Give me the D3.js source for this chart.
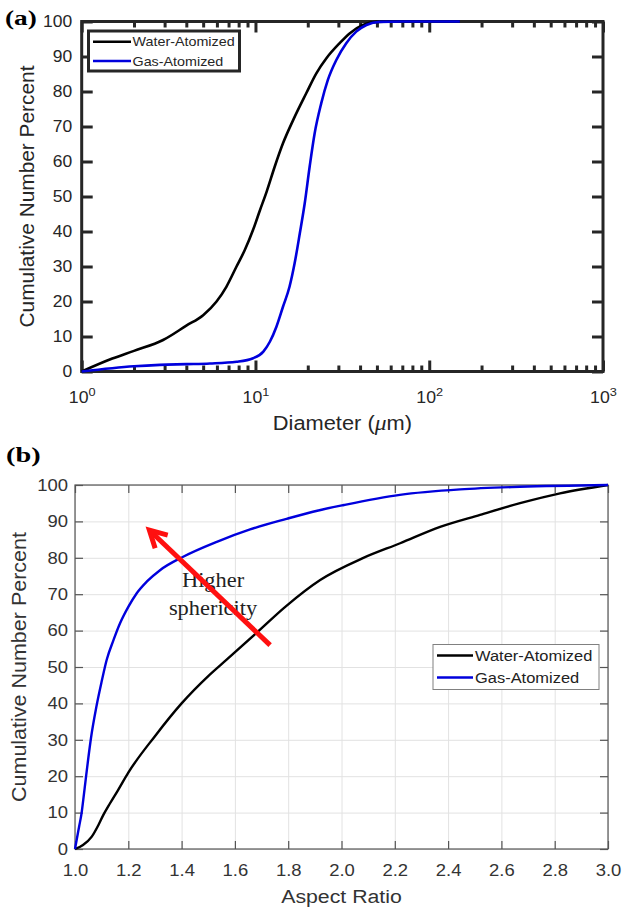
<!DOCTYPE html>
<html>
<head>
<meta charset="utf-8">
<script src="https://cdn.jsdelivr.net/npm/d3@7"></script>
<style>
  body { margin: 0; background: #fff; }
  svg { display: block; }
</style>
</head>
<body>
<div id="chart"></div>
<script>
// panel (a): cumulative number percent vs diameter (um), log x
const diamWater = [1, 1.5, 2, 2.94, 4, 5.0, 5.97, 6.8, 7.78, 8.68, 9.69, 10.6, 11.6, 12.9, 14.4, 16.5, 19.6, 22.4, 25.6, 30.5, 34.8, 41.5, 49.6, 60, 80, 100, 150];
const cumWater = [0, 3.7, 5.9, 9, 13.1, 16.1, 20, 24.2, 30, 34.7, 40.5, 46, 51.4, 58.5, 65.2, 71.9, 79.5, 85.2, 89.5, 93.8, 96.6, 99, 99.9, 100, 100, 100, 100];
const diamGas = [1, 2, 2.82, 4, 5.47, 7.78, 9.69, 11.1, 12.1, 13.2, 14.4, 15.7, 16.8, 18.0, 19.2, 20.5, 21.9, 23.9, 26.1, 29.2, 33.3, 38, 43.5, 51.8, 70, 150];
const cumGas = [0, 1.5, 1.9, 2.1, 2.3, 2.8, 3.8, 5.7, 8.5, 12.8, 18.5, 24.2, 30.9, 39.5, 48, 58.5, 68, 76.6, 83.3, 89, 93.8, 97.1, 99, 99.9, 100, 100];

// panel (b): cumulative number percent vs aspect ratio
const arWater = [1.0, 1.03, 1.063, 1.088, 1.106, 1.131, 1.16, 1.2, 1.3, 1.4, 1.5, 1.569, 1.68, 1.79, 1.92, 2.08, 2.22, 2.37, 2.52, 2.67, 2.82, 3.0];
const arCumWater = [0, 1.1, 3.4, 6.6, 9.3, 12.5, 16, 21, 31, 40, 47.5, 52, 59.3, 66.6, 73.9, 79.9, 84, 88.5, 91.8, 95, 97.7, 100];
const arGas = [1.0, 1.015, 1.025, 1.031, 1.04, 1.05, 1.06, 1.08, 1.1, 1.119, 1.145, 1.169, 1.2, 1.231, 1.27, 1.319, 1.406, 1.532, 1.657, 1.794, 1.913, 2.009, 2.219, 2.445, 2.67, 3.0];
const arCumGas = [0, 6, 10, 13.5, 19, 25, 30.5, 39, 46, 52, 57.5, 62, 66.5, 70.2, 73.5, 76.6, 80.3, 84.4, 87.8, 90.7, 93, 94.5, 97.3, 98.8, 99.5, 100];

const seriesNames = ["Water-Atomized", "Gas-Atomized"];
const seriesColors = ["#000000", "#0000dd"];
const diamMajor = [1, 10, 100, 1000];
const diamMinor = [2, 3, 4, 5, 6, 7, 8, 9, 20, 30, 40, 50, 60, 70, 80, 90, 200, 300, 400, 500, 600, 700, 800, 900];
const pctTicks = [0, 10, 20, 30, 40, 50, 60, 70, 80, 90, 100];
const arTicks = [1.0, 1.2, 1.4, 1.6, 1.8, 2.0, 2.2, 2.4, 2.6, 2.8, 3.0];

// arrow annotation in data units (tail -> tip)
const arrowFrom = [1.732, 56];
const arrowTo = [1.279, 87.6];
const noteLines = ["Higher", "sphericity"];

const W = 624, H = 909;
const SX = 1.12; // the source figure is stretched horizontally
const sans = "'Liberation Sans', Arial, sans-serif";
const serif = "'Liberation Serif', 'Times New Roman', serif";

const svg = d3.select("#chart").append("svg").attr("width", W).attr("height", H);

function text(g, x, y, str, size, anchor, sx) {
  return g.append("text")
    .attr("transform", `translate(${x},${y}) scale(${sx || SX},1)`)
    .attr("text-anchor", anchor || "start")
    .attr("font-family", sans)
    .attr("font-size", size)
    .attr("fill", "#262626")
    .text(str);
}

function yTitle(g, x, yMid, str, size, len) {
  return g.append("text")
    .attr("transform", `translate(${x},${yMid}) rotate(-90)`)
    .attr("text-anchor", "middle")
    .attr("font-family", sans)
    .attr("font-size", size)
    .attr("textLength", len)
    .attr("lengthAdjust", "spacingAndGlyphs")
    .attr("fill", "#262626")
    .text(str);
}

// ---------- panel (a) ----------
const xa = d3.scaleLog().domain([1, 1000]).range([81.7, 603]);
const ya = d3.scaleLinear().domain([0, 100]).range([371.5, 21.5]);
const ga = svg.append("g");

function styleA(sel) {
  sel.select(".domain").remove();
  sel.selectAll("line").attr("stroke", "#262626").attr("stroke-width", 3);
}

const axA = [
  [d3.axisBottom(xa).tickValues(diamMajor), `translate(0,${ya(0)})`, -11],
  [d3.axisBottom(xa).tickValues(diamMinor), `translate(0,${ya(0)})`, -6],
  [d3.axisTop(xa).tickValues(diamMajor), `translate(0,${ya(100)})`, -11],
  [d3.axisTop(xa).tickValues(diamMinor), `translate(0,${ya(100)})`, -6],
  [d3.axisRight(ya).tickValues(pctTicks), `translate(${xa(1000)},0)`, -11],
];
axA.forEach(([ax, tr, len]) => {
  ga.append("g").attr("transform", tr).call(ax.tickSize(len).tickFormat("")).call(styleA);
});

const xaLab = ga.append("g").attr("transform", `translate(0,${ya(0)})`)
  .call(d3.axisBottom(xa).tickValues(diamMajor).tickSize(0).tickPadding(20.5))
  .call((g) => g.select(".domain").remove());
xaLab.selectAll("text")
  .attr("font-family", sans).attr("font-size", 15.8).attr("fill", "#262626")
  .attr("transform", `scale(${SX},1)`)
  .each(function (d) {
    const t = d3.select(this).text("");
    t.append("tspan").text("10");
    t.append("tspan").attr("dy", "-0.6em").attr("font-size", "0.72em").text(Math.round(Math.log10(d)));
  });

ga.append("g").attr("transform", `translate(${xa(1)},0)`)
  .call(d3.axisLeft(ya).tickValues(pctTicks).tickSize(-11).tickPadding(9.5 / SX))
  .call(styleA)
  .selectAll("text")
  .attr("font-family", sans).attr("font-size", 15.6).attr("fill", "#262626")
  .attr("transform", `scale(${SX},1)`);

ga.append("rect")
  .attr("x", xa(1)).attr("y", ya(100))
  .attr("width", xa(1000) - xa(1)).attr("height", ya(0) - ya(100))
  .attr("fill", "none").attr("stroke", "#262626").attr("stroke-width", 3);

const lineA = d3.line().curve(d3.curveMonotoneX).x((d) => xa(d[0])).y((d) => ya(d[1]));
ga.append("path").datum(d3.zip(diamWater, cumWater))
  .attr("fill", "none").attr("stroke", seriesColors[0]).attr("stroke-width", 2.6).attr("d", lineA);
ga.append("path").datum(d3.zip(diamGas, cumGas))
  .attr("fill", "none").attr("stroke", seriesColors[1]).attr("stroke-width", 2.6).attr("d", lineA);

const legA = ga.append("g");
legA.append("rect").attr("x", 88.5).attr("y", 31).attr("width", 151).attr("height", 40)
  .attr("fill", "#fff").attr("stroke", "#262626").attr("stroke-width", 3);
seriesNames.forEach((name, i) => {
  const yy = 41.7 + i * 19.3;
  legA.append("line").attr("x1", 93).attr("x2", 131).attr("y1", yy).attr("y2", yy)
    .attr("stroke", seriesColors[i]).attr("stroke-width", 2.6);
  text(legA, 132.5, yy + 4.6, name, 12.8);
});

const xTitleA = text(ga, (xa(1) + xa(1000)) / 2, 430, "Diameter (", 19.5, "middle");
xTitleA.append("tspan").attr("font-style", "italic").attr("font-family", serif).attr("font-size", 21).text("\u03bc");
xTitleA.append("tspan").text("m)");
yTitle(ga, 34, (ya(0) + ya(100)) / 2, "Cumulative Number Percent", 20.5, 262);
text(ga, 5, 25, "(a)", 21, "start", 1.3).attr("font-family", serif).attr("font-weight", "bold").attr("fill", "#000");

// ---------- panel (b) ----------
const xb = d3.scaleLinear().domain([1, 3]).range([75, 608]);
const yb = d3.scaleLinear().domain([0, 100]).range([849, 485]);
const gb = svg.append("g");

gb.append("g").attr("transform", `translate(0,${yb(0)})`)
  .call(d3.axisBottom(xb).tickValues(arTicks).tickSize(-(yb(0) - yb(100))).tickFormat(""))
  .call((g) => g.select(".domain").remove())
  .selectAll("line").attr("stroke", "#e2e2e2").attr("stroke-width", 1);
gb.append("g").attr("transform", `translate(${xb(1)},0)`)
  .call(d3.axisLeft(yb).tickValues(pctTicks).tickSize(-(xb(3) - xb(1))).tickFormat(""))
  .call((g) => g.select(".domain").remove())
  .selectAll("line").attr("stroke", "#e2e2e2").attr("stroke-width", 1);

function styleB(sel) {
  sel.select(".domain").remove();
  sel.selectAll("line").attr("stroke", "#555").attr("stroke-width", 1.2);
}
[
  [d3.axisTop(xb).tickValues(arTicks), `translate(0,${yb(100)})`],
  [d3.axisRight(yb).tickValues(pctTicks), `translate(${xb(3)},0)`],
].forEach(([ax, tr]) => {
  gb.append("g").attr("transform", tr).call(ax.tickSize(-8).tickFormat("")).call(styleB);
});

gb.append("g").attr("transform", `translate(0,${yb(0)})`)
  .call(d3.axisBottom(xb).tickValues(arTicks).tickSize(-8).tickPadding(15).tickFormat(d3.format(".1f")))
  .call(styleB)
  .selectAll("text")
  .attr("font-family", sans).attr("font-size", 16.5).attr("fill", "#333")
  .attr("transform", `scale(${SX},1)`);
gb.append("g").attr("transform", `translate(${xb(1)},0)`)
  .call(d3.axisLeft(yb).tickValues(pctTicks).tickSize(-8).tickPadding(7 / SX))
  .call(styleB)
  .selectAll("text")
  .attr("font-family", sans).attr("font-size", 16.5).attr("fill", "#333")
  .attr("transform", `scale(${SX},1)`);

gb.append("rect")
  .attr("x", xb(1)).attr("y", yb(100))
  .attr("width", xb(3) - xb(1)).attr("height", yb(0) - yb(100))
  .attr("fill", "none").attr("stroke", "#555").attr("stroke-width", 1.2);

const lineB = d3.line().curve(d3.curveMonotoneX).x((d) => xb(d[0])).y((d) => yb(d[1]));
gb.append("path").datum(d3.zip(arWater, arCumWater))
  .attr("fill", "none").attr("stroke", seriesColors[0]).attr("stroke-width", 2.4).attr("d", lineB);
gb.append("path").datum(d3.zip(arGas, arCumGas))
  .attr("fill", "none").attr("stroke", seriesColors[1]).attr("stroke-width", 2.4).attr("d", lineB);

// annotation
noteLines.forEach((s, i) => {
  text(gb, xb(1.518), yb(72) + i * 28, s, 20, "middle").attr("font-family", serif).attr("fill", "#222");
});
const p0 = [xb(arrowFrom[0]), yb(arrowFrom[1])];
const p1 = [xb(arrowTo[0]), yb(arrowTo[1])];
const ang = Math.atan2(p0[1] - p1[1], p0[0] - p1[0]);
const headLen = 19, headAng = 0.5;
gb.append("line")
  .attr("x1", p0[0]).attr("y1", p0[1]).attr("x2", p1[0] + 2 * Math.cos(ang)).attr("y2", p1[1] + 2 * Math.sin(ang))
  .attr("stroke", "#ff1010").attr("stroke-width", 5);
gb.append("path")
  .attr("d", d3.line()([
    [p1[0] + headLen * Math.cos(ang + headAng), p1[1] + headLen * Math.sin(ang + headAng)],
    p1,
    [p1[0] + headLen * Math.cos(ang - headAng), p1[1] + headLen * Math.sin(ang - headAng)],
  ]))
  .attr("fill", "none").attr("stroke", "#ff1010").attr("stroke-width", 5)
  .attr("stroke-linejoin", "miter");

const legB = gb.append("g");
legB.append("rect").attr("x", 433).attr("y", 644.5).attr("width", 166).attr("height", 45)
  .attr("fill", "#fff").attr("stroke", "#808080").attr("stroke-width", 1);
seriesNames.forEach((name, i) => {
  const yy = 655.5 + i * 22;
  legB.append("line").attr("x1", 437).attr("x2", 473).attr("y1", yy).attr("y2", yy)
    .attr("stroke", seriesColors[i]).attr("stroke-width", 2.4);
  text(legB, 475, yy + 5.3, name, 14.7).attr("fill", "#222");
});

text(gb, (xb(1) + xb(3)) / 2, 903, "Aspect Ratio", 19, "middle").attr("fill", "#333");
yTitle(gb, 26, 667, "Cumulative Number Percent", 21, 270).attr("fill", "#333");
text(gb, 6, 462, "(b)", 21, "start", 1.35).attr("font-family", serif).attr("font-weight", "bold").attr("fill", "#000");
</script>
</body>
</html>
